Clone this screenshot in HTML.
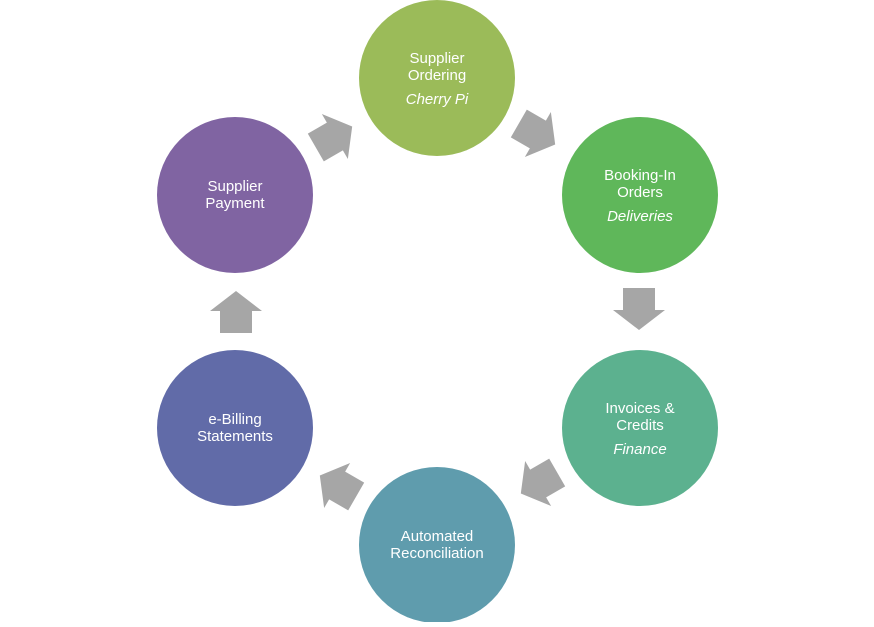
<!DOCTYPE html>
<html><head><style>body{margin:0;background:#fff}</style></head><body>
<svg width="874" height="622" viewBox="0 0 874 622" xmlns="http://www.w3.org/2000/svg" font-family="Liberation Sans, sans-serif" font-size="15" fill="#fff">
<defs><path id="a" d="M-21,-16 H1 V-26 L21,0 L1,26 V16 H-21 Z" fill="#a6a6a6"/></defs>
<use href="#a" transform="translate(537,134) rotate(30)"/>
<use href="#a" transform="translate(639,309) rotate(90)"/>
<use href="#a" transform="translate(539,483) rotate(150)"/>
<use href="#a" transform="translate(338,486) rotate(210)"/>
<use href="#a" transform="translate(236,312) rotate(-90)"/>
<use href="#a" transform="translate(334,137) rotate(-30)"/>
<circle cx="437" cy="78" r="78" fill="#9bbb59"/>
<circle cx="640" cy="195" r="78" fill="#5fb75a"/>
<circle cx="640" cy="428" r="78" fill="#5cb18f"/>
<circle cx="437" cy="545" r="78" fill="#5f9cad"/>
<circle cx="235" cy="428" r="78" fill="#616ba8"/>
<circle cx="235" cy="195" r="78" fill="#8064a2"/>
<g text-anchor="middle">
<text x="437" y="63">Supplier</text><text x="437" y="80">Ordering</text><text x="437" y="104" font-style="italic">Cherry Pi</text>
<text x="640" y="180">Booking-In</text><text x="640" y="197">Orders</text><text x="640" y="221" font-style="italic">Deliveries</text>
<text x="640" y="413">Invoices &amp;</text><text x="640" y="430">Credits</text><text x="640" y="454" font-style="italic">Finance</text>
<text x="437" y="541">Automated</text><text x="437" y="558">Reconciliation</text>
<text x="235" y="424">e-Billing</text><text x="235" y="441">Statements</text>
<text x="235" y="191">Supplier</text><text x="235" y="208">Payment</text>
</g>
</svg>
</body></html>
